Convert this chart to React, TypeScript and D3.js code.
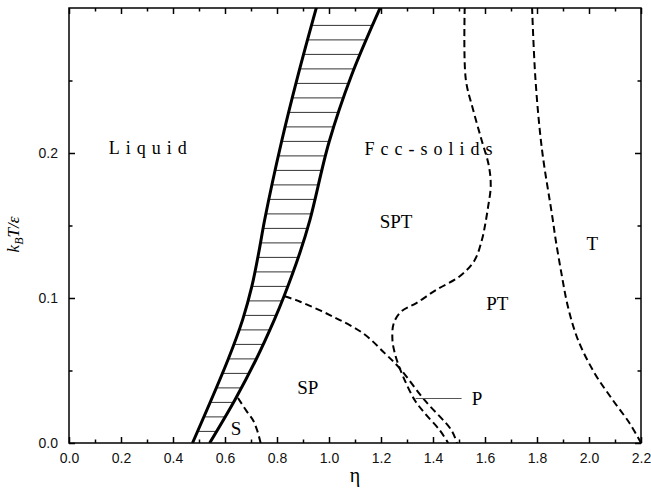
import * as d3 from 'd3';
import React, { useRef, useEffect } from 'react';

// phase boundaries, [eta, kT/eps]
const liquidus = [[0.475, 0], [0.6115, 0.0574], [0.668, 0.0851], [0.703, 0.1078], [0.73, 0.1315], [0.753, 0.1543], [0.817, 0.2074], [0.88, 0.253], [0.952, 0.3006]];
const solidus = [[0.541, 0], [0.638, 0.0297], [0.719, 0.0574], [0.79, 0.0851], [0.827, 0.1012], [0.888, 0.1312], [0.927, 0.1541], [1.0, 0.2074], [1.086, 0.2533], [1.198, 0.3006]];
const sBoundary = [[0.65, 0.031], [0.683, 0.022], [0.708, 0.0157], [0.725, 0.008], [0.737, 0]];
const spBoundary = [[0.83, 0.1012], [0.887, 0.0976], [1.015, 0.0872], [1.131, 0.0757], [1.214, 0.062], [1.272, 0.0515], [1.368, 0.0295], [1.471, 0.0088], [1.492, 0]];
const sptBoundary = [[1.522, 0.3006], [1.526, 0.251], [1.554, 0.23], [1.586, 0.2095], [1.615, 0.191], [1.622, 0.177], [1.612, 0.163], [1.6, 0.15], [1.588, 0.14], [1.56, 0.126], [1.503, 0.115], [1.413, 0.1057], [1.336, 0.0965], [1.278, 0.0907], [1.249, 0.0826], [1.244, 0.071], [1.253, 0.062], [1.265, 0.055], [1.291, 0.0434], [1.33, 0.0295], [1.368, 0.0206], [1.426, 0.0088], [1.458, 0]];
const tBoundary = [[1.781, 0.3006], [1.794, 0.251], [1.819, 0.2026], [1.859, 0.156], [1.872, 0.14], [1.894, 0.117], [1.919, 0.094], [1.958, 0.071], [2.022, 0.048], [2.092, 0.0295], [2.157, 0.0134], [2.2, 0]];

// hatch levels inside the coexistence band
const hatchLevels = [0.008, 0.018, 0.028, 0.038, 0.048, 0.058, 0.068, 0.078, 0.088, 0.098, 0.108, 0.118, 0.128, 0.138, 0.148, 0.158, 0.168, 0.178, 0.188, 0.198, 0.208, 0.218, 0.228, 0.238, 0.248, 0.258, 0.268, 0.278, 0.288];

const xMajor = [0, 0.2, 0.4, 0.6, 0.8, 1.0, 1.2, 1.4, 1.6, 1.8, 2.0, 2.2];
const xMinor = [0.1, 0.3, 0.5, 0.7, 0.9, 1.1, 1.3, 1.5, 1.7, 1.9, 2.1];
const yMajor = [0, 0.1, 0.2];
const yMinor = [0.05, 0.15, 0.25];

const regionLabels = [
    { text: 'Liquid', x: 0.153, y: 0.199, size: 18, spacing: 6 },
    { text: 'Fcc-solids', x: 1.137, y: 0.1984, size: 18, spacing: 6 },
    { text: 'SPT', x: 1.195, y: 0.1486, size: 19, spacing: 0 },
    { text: 'PT', x: 1.605, y: 0.0918, size: 19, spacing: 0 },
    { text: 'T', x: 1.99, y: 0.1333, size: 19, spacing: 0 },
    { text: 'SP', x: 0.878, y: 0.0337, size: 19, spacing: 0 },
    { text: 'S', x: 0.622, y: 0.0053, size: 19, spacing: 0 },
    { text: 'P', x: 1.549, y: 0.026, size: 19, spacing: 0 },
];
const pPointer = [[1.333, 0.0307], [1.51, 0.0307]];

function PhaseDiagram({ width, height }) {
    const ref = useRef();

    useEffect(() => {
        const svg = d3.select(ref.current);
        svg.selectAll('*').remove();

        const margin = { top: 8, right: 10, bottom: 46, left: 69 };
        const w = width - margin.left - margin.right;
        const h = height - margin.top - margin.bottom;

        const x = d3.scaleLinear().domain([0, 2.2]).range([0, w]);
        const y = d3.scaleLinear().domain([0, 0.3]).range([h, 0]);

        const g = svg.append('g').attr('transform', `translate(${margin.left},${margin.top})`);

        const defs = svg.append('defs');
        defs.append('clipPath').attr('id', 'plotClip')
            .append('rect').attr('width', w).attr('height', h);

        const line = d3.line().x(d => x(d[0])).y(d => y(d[1])).curve(d3.curveCatmullRom.alpha(0.5));

        // band between liquidus and solidus
        const band = line(liquidus) + 'L' + line(solidus.slice().reverse()).slice(1) + 'Z';
        defs.append('clipPath').attr('id', 'bandClip')
            .append('path').attr('d', band);

        const plot = g.append('g').attr('clip-path', 'url(#plotClip)');

        plot.append('g').attr('clip-path', 'url(#bandClip)')
            .selectAll('line').data(hatchLevels).join('line')
            .attr('x1', 0).attr('x2', w)
            .attr('y1', d => y(d)).attr('y2', d => y(d))
            .attr('stroke', '#333').attr('stroke-width', 1);

        [liquidus, solidus].forEach(c => {
            plot.append('path').attr('d', line(c))
                .attr('fill', 'none').attr('stroke', '#000').attr('stroke-width', 3);
        });

        [sBoundary, spBoundary, sptBoundary, tBoundary].forEach(c => {
            plot.append('path').attr('d', line(c))
                .attr('fill', 'none').attr('stroke', '#000').attr('stroke-width', 2)
                .attr('stroke-dasharray', '7,4');
        });

        plot.append('line')
            .attr('x1', x(pPointer[0][0])).attr('y1', y(pPointer[0][1]))
            .attr('x2', x(pPointer[1][0])).attr('y2', y(pPointer[1][1]))
            .attr('stroke', '#555').attr('stroke-width', 1);

        g.selectAll('text.region').data(regionLabels).join('text')
            .attr('class', 'region')
            .attr('x', d => x(d.x)).attr('y', d => y(d.y))
            .attr('font-family', '"Liberation Serif", "Times New Roman", serif')
            .attr('font-size', d => d.size)
            .attr('letter-spacing', d => d.spacing)
            .attr('fill', '#000')
            .text(d => d.text);

        // axes, ticks pointing inward
        const tickFont = (sel) => sel.selectAll('text')
            .attr('font-family', '"Liberation Sans", Arial, sans-serif')
            .attr('font-size', 14).attr('fill', '#111');

        g.append('g').attr('transform', `translate(0,${h})`)
            .call(d3.axisBottom(x).tickValues(xMajor).tickSize(-6).tickPadding(10).tickFormat(d3.format('.1f')))
            .call(tickFont);
        g.append('g').attr('transform', `translate(0,${h})`)
            .call(d3.axisBottom(x).tickValues(xMinor).tickSize(-3.5).tickFormat(''));
        g.append('g')
            .call(d3.axisTop(x).tickValues(xMajor).tickSize(-6).tickFormat(''));
        g.append('g')
            .call(d3.axisTop(x).tickValues(xMinor).tickSize(-3.5).tickFormat(''));

        g.append('g')
            .call(d3.axisLeft(y).tickValues(yMajor).tickSize(-6).tickPadding(11).tickFormat(d3.format('.1f')))
            .call(tickFont);
        g.append('g')
            .call(d3.axisLeft(y).tickValues(yMinor).tickSize(-3.5).tickFormat(''));
        g.append('g').attr('transform', `translate(${w},0)`)
            .call(d3.axisRight(y).tickValues(yMajor).tickSize(-6).tickFormat(''));
        g.append('g').attr('transform', `translate(${w},0)`)
            .call(d3.axisRight(y).tickValues(yMinor).tickSize(-3.5).tickFormat(''));

        g.selectAll('.domain').remove();
        g.selectAll('.tick line').attr('stroke', '#000').attr('stroke-width', 1.5);

        g.append('rect').attr('width', w).attr('height', h)
            .attr('fill', 'none').attr('stroke', '#000').attr('stroke-width', 1.5);

        // axis titles
        g.append('text')
            .attr('x', w / 2).attr('y', h + 39)
            .attr('text-anchor', 'middle')
            .attr('font-family', '"Liberation Serif", "Times New Roman", serif')
            .attr('font-size', 20)
            .text('η');

        const yt = g.append('text')
            .attr('transform', `translate(${-50},${h / 2 + 9}) rotate(-90)`)
            .attr('text-anchor', 'middle')
            .attr('font-family', '"Liberation Serif", "Times New Roman", serif')
            .attr('font-style', 'italic')
            .attr('font-size', 17);
        yt.append('tspan').text('k');
        yt.append('tspan').attr('font-size', 12).attr('dy', 4).text('B');
        yt.append('tspan').attr('dy', -4).text('T/ε');
    }, [width, height]);

    return (
        <svg ref={ref} width={width} height={height}
            style={{ position: 'absolute', left: 0, top: 0, display: 'block', background: '#fff' }}>
        </svg>
    );
}

export default function App() {
    return <PhaseDiagram width={651} height={489} />;
}
